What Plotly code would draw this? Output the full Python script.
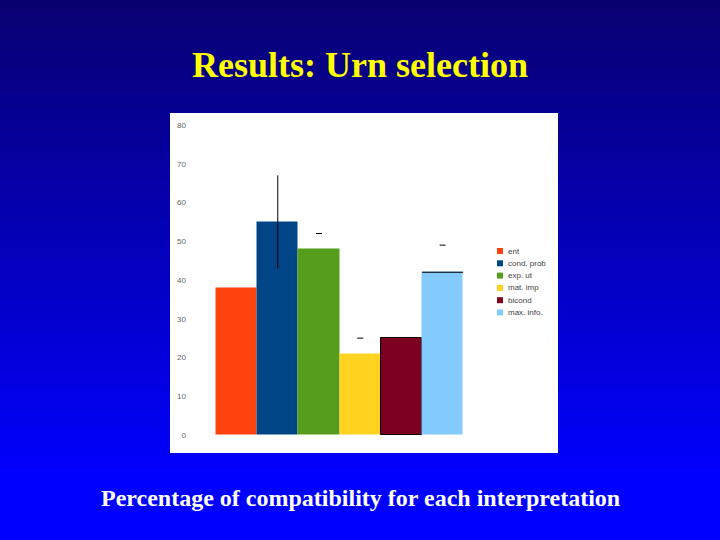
import plotly.graph_objects as go

# values
labels = ["ent", "cond. prob", "exp. ut", "mat. imp", "bicond", "max. info."]
values = [38, 55, 48, 21, 25, 42]
err_plus = [0, 12, 0, 0, 0, 0]
err_minus = [0, 12, 0, 0, 0, 0]
upper_marks = [None, None, 52, 25, None, 49]
yticks = [0, 10, 20, 30, 40, 50, 60, 70, 80]
colors = ["#ff420e", "#004586", "#579d1c", "#ffd320", "#7e0021", "#83caff"]

W, H = 720, 540
L, R, T, B = 190, 558, 125, 435  # plot area in pixels
pw, ph = R - L, B - T


def px(x):
    return (x - L) / pw


def py(y):
    return (B - y) / ph


fig = go.Figure()

fig.add_trace(go.Bar(
    x=labels, y=values,
    marker=dict(color=colors,
                line=dict(color=["rgba(0,0,0,0)"] * 4 + ["#000000", "rgba(0,0,0,0)"], width=1)),
    width=1,
    error_y=dict(type="data", array=err_plus, arrayminus=err_minus,
                 color="#000000", thickness=1, width=0, visible=True),
    showlegend=False,
))

# short marks above some bars
fig.add_trace(go.Scatter(
    x=labels, y=upper_marks, mode="markers",
    marker=dict(symbol="line-ew", size=4.3, line=dict(color="#000000", width=1)),
    showlegend=False, hoverinfo="skip",
))
# black top line on the last bar
fig.add_trace(go.Scatter(
    x=[labels[-1]], y=[values[-1]], mode="markers",
    marker=dict(symbol="line-ew", size=29.3, line=dict(color="#000000", width=1)),
    showlegend=False, hoverinfo="skip",
))

shapes = []
# slide background gradient
top, bot = (8, 0, 112), (0, 0, 255)
n = 54
for i in range(n):
    y0 = i * H / n
    t = min(1.0, (i + 0.5) * (H / n) / 480)
    c = tuple(round(top[k] + (bot[k] - top[k]) * t) for k in range(3))
    shapes.append(dict(type="rect", xref="paper", yref="paper", layer="below",
                       x0=px(0), x1=px(W), y0=py(y0 + H / n + 1), y1=py(y0),
                       fillcolor="rgb(%d,%d,%d)" % c, line=dict(width=0)))
# white chart panel
shapes.append(dict(type="rect", xref="paper", yref="paper", layer="below",
                   x0=px(170), x1=px(558), y0=py(453), y1=py(113),
                   fillcolor="#ffffff", line=dict(width=0)))

annotations = []
for i, (lab, c) in enumerate(zip(labels, colors)):
    yc = 251 + i * 12.3
    shapes.append(dict(type="rect", xref="paper", yref="paper",
                       x0=px(497), x1=px(503), y0=py(yc + 3), y1=py(yc - 3),
                       fillcolor=c, line=dict(width=0)))
    annotations.append(dict(xref="paper", yref="paper", x=px(506), y=py(yc),
                            xanchor="left", yanchor="middle", showarrow=False,
                            text=lab, font=dict(size=8, color="#444444",
                                                family="Liberation Sans, Arial")))

annotations.append(dict(xref="paper", yref="paper", x=px(360), y=py(65),
                        xanchor="center", yanchor="middle", showarrow=False,
                        text="<b>Results: Urn selection</b>",
                        font=dict(size=36, color="#ffff00",
                                  family="Liberation Serif, Times New Roman")))
annotations.append(dict(xref="paper", yref="paper", x=px(360), y=py(498),
                        xanchor="center", yanchor="middle", showarrow=False,
                        text="<b>Percentage of compatibility for each interpretation</b>",
                        font=dict(size=24, color="#ffffff",
                                  family="Liberation Serif, Times New Roman")))

fig.update_layout(
    width=W, height=H,
    margin=dict(l=L, r=W - R, t=T, b=H - B, pad=0),
    paper_bgcolor="#000080",
    plot_bgcolor="rgba(0,0,0,0)",
    bargap=0,
    shapes=shapes,
    annotations=annotations,
    xaxis=dict(range=[-1.13, 7.8], showticklabels=False, showgrid=False,
               zeroline=False, showline=False, ticks=""),
    yaxis=dict(range=[0, 80], tickvals=yticks, showgrid=False, zeroline=False,
               showline=False, ticks="", ticklabelstandoff=3,
               tickfont=dict(size=8, color="#666666", family="Liberation Sans, Arial")),
)

fig.write_html("out.html", config={"displayModeBar": False},
               post_script="document.body.style.margin='0';"
               "document.body.style.overflow='hidden';")
